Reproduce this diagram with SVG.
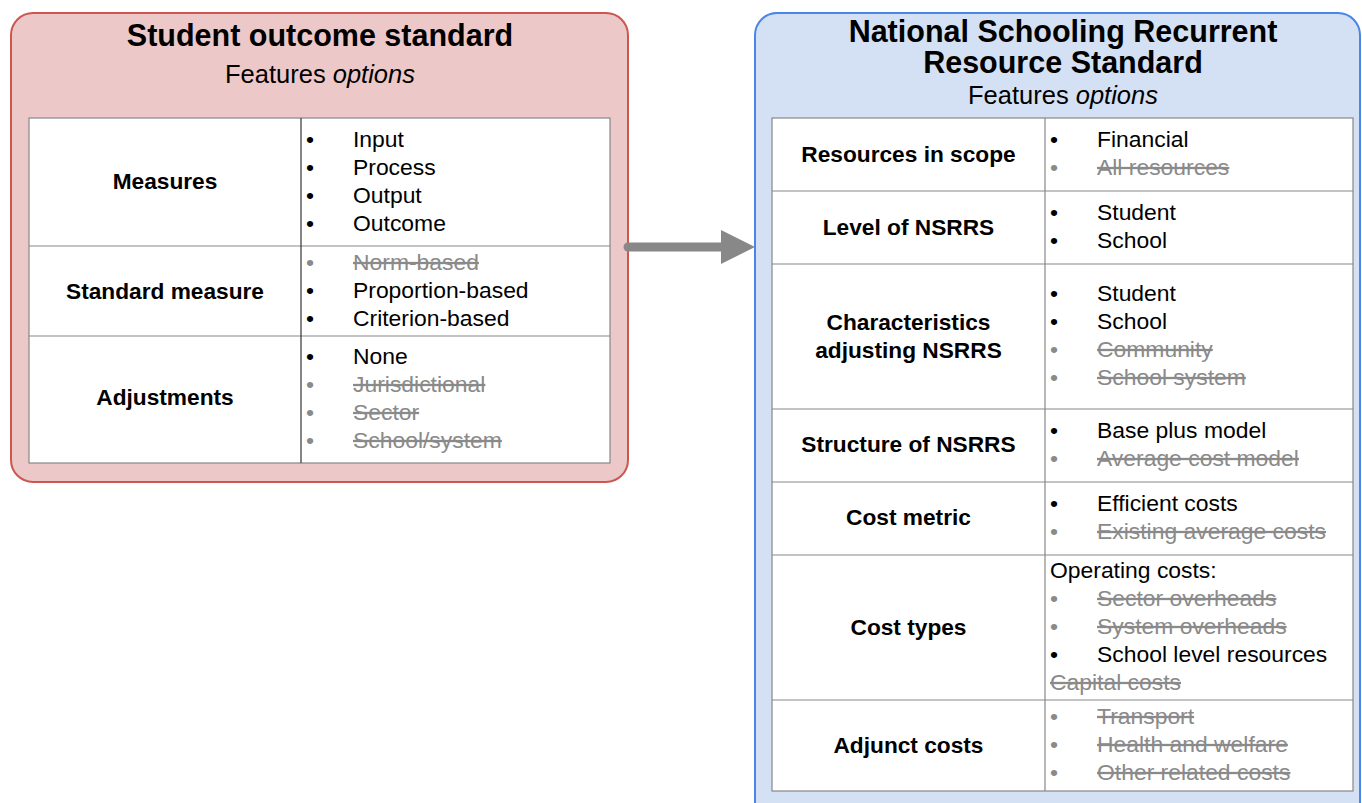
<svg xmlns="http://www.w3.org/2000/svg" width="1362" height="803" viewBox="0 0 1362 803">
<style>
text{font-family:"Liberation Sans",Arial,sans-serif;fill:#000}
.title{font-size:30.5px;font-weight:bold;text-anchor:middle}
.sub{font-size:25.5px;text-anchor:middle}
.lbl{font-size:22.7px;font-weight:bold;text-anchor:middle}
.it{font-size:22.9px}
.off{fill:#8a8a8a;text-decoration:line-through}
.cell{fill:#fff;stroke:#888;stroke-width:1.2}
.ln{stroke:#888;stroke-width:1.2}
.vd{stroke:#333;stroke-width:1.2}
</style>
<defs>
<marker id="ah" markerUnits="userSpaceOnUse" markerWidth="36" markerHeight="34" refX="0" refY="17" orient="auto">
<path d="M0,0 L34,17 L0,34 Z" fill="#888"/>
</marker>
</defs>

<g id="student-outcome-standard">
<rect x="11" y="13" width="617" height="469" rx="22" fill="#ecc9c8" stroke="#cc5751" stroke-width="2"/>
<text class="title" x="320" y="46">Student outcome standard</text>
<text class="sub" x="320" y="83">Features <tspan font-style="italic">options</tspan></text>
<rect class="cell" x="29" y="118" width="581" height="345"/>
<line class="ln" x1="29" y1="246" x2="610" y2="246"/>
<line class="ln" x1="29" y1="336" x2="610" y2="336"/>
<line class="vd" x1="301" y1="118" x2="301" y2="463"/>
<text class="lbl" x="165" y="189">Measures</text>
<text class="lbl" x="165" y="299">Standard measure</text>
<text class="lbl" x="165" y="405">Adjustments</text>
<g class="it">
<text x="306" y="147">•</text><text x="353" y="147">Input</text>
<text x="306" y="175">•</text><text x="353" y="175">Process</text>
<text x="306" y="203">•</text><text x="353" y="203">Output</text>
<text x="306" y="231">•</text><text x="353" y="231">Outcome</text>
<text x="306" y="270" style="fill:#8a8a8a">•</text><text class="off" x="353" y="270">Norm-based</text>
<text x="306" y="298">•</text><text x="353" y="298">Proportion-based</text>
<text x="306" y="326">•</text><text x="353" y="326">Criterion-based</text>
<text x="306" y="364">•</text><text x="353" y="364">None</text>
<text x="306" y="392" style="fill:#8a8a8a">•</text><text class="off" x="353" y="392">Jurisdictional</text>
<text x="306" y="420" style="fill:#8a8a8a">•</text><text class="off" x="353" y="420">Sector</text>
<text x="306" y="448" style="fill:#8a8a8a">•</text><text class="off" x="353" y="448">School/system</text>
</g>
</g>

<g id="nsrrs">
<rect x="755" y="13" width="605" height="830" rx="22" fill="#d4e0f4" stroke="#4a86e8" stroke-width="2"/>
<text class="title" x="1063" y="42">National Schooling Recurrent</text>
<text class="title" x="1063" y="73">Resource Standard</text>
<text class="sub" x="1063" y="104">Features <tspan font-style="italic">options</tspan></text>
<rect class="cell" x="772" y="118" width="581" height="673"/>
<line class="ln" x1="772" y1="191" x2="1353" y2="191"/>
<line class="ln" x1="772" y1="264" x2="1353" y2="264"/>
<line class="ln" x1="772" y1="409" x2="1353" y2="409"/>
<line class="ln" x1="772" y1="482" x2="1353" y2="482"/>
<line class="ln" x1="772" y1="555" x2="1353" y2="555"/>
<line class="ln" x1="772" y1="700" x2="1353" y2="700"/>
<line class="ln" x1="1045" y1="118" x2="1045" y2="791"/>
<text class="lbl" x="908.5" y="162">Resources in scope</text>
<text class="lbl" x="908.5" y="235">Level of NSRRS</text>
<text class="lbl" x="908.5" y="330">Characteristics</text>
<text class="lbl" x="908.5" y="358">adjusting NSRRS</text>
<text class="lbl" x="908.5" y="452">Structure of NSRRS</text>
<text class="lbl" x="908.5" y="525">Cost metric</text>
<text class="lbl" x="908.5" y="635">Cost types</text>
<text class="lbl" x="908.5" y="753">Adjunct costs</text>
<g class="it">
<text x="1050" y="147">•</text><text x="1097" y="147">Financial</text>
<text x="1050" y="175" style="fill:#8a8a8a">•</text><text class="off" x="1097" y="175">All resources</text>
<text x="1050" y="220">•</text><text x="1097" y="220">Student</text>
<text x="1050" y="248">•</text><text x="1097" y="248">School</text>
<text x="1050" y="301">•</text><text x="1097" y="301">Student</text>
<text x="1050" y="329">•</text><text x="1097" y="329">School</text>
<text x="1050" y="357" style="fill:#8a8a8a">•</text><text class="off" x="1097" y="357">Community</text>
<text x="1050" y="385" style="fill:#8a8a8a">•</text><text class="off" x="1097" y="385">School system</text>
<text x="1050" y="438">•</text><text x="1097" y="438">Base plus model</text>
<text x="1050" y="466" style="fill:#8a8a8a">•</text><text class="off" x="1097" y="466">Average cost model</text>
<text x="1050" y="511">•</text><text x="1097" y="511">Efficient costs</text>
<text x="1050" y="539" style="fill:#8a8a8a">•</text><text class="off" x="1097" y="539">Existing average costs</text>
<text x="1050" y="578">Operating costs:</text>
<text x="1050" y="606" style="fill:#8a8a8a">•</text><text class="off" x="1097" y="606">Sector overheads</text>
<text x="1050" y="634" style="fill:#8a8a8a">•</text><text class="off" x="1097" y="634">System overheads</text>
<text x="1050" y="662">•</text><text x="1097" y="662">School level resources</text>
<text class="off" x="1050" y="690">Capital costs</text>
<text x="1050" y="724" style="fill:#8a8a8a">•</text><text class="off" x="1097" y="724">Transport</text>
<text x="1050" y="752" style="fill:#8a8a8a">•</text><text class="off" x="1097" y="752">Health and welfare</text>
<text x="1050" y="780" style="fill:#8a8a8a">•</text><text class="off" x="1097" y="780">Other related costs</text>
</g>
</g>

<g id="connectors">
<line x1="628" y1="247" x2="721" y2="247" stroke="#888" stroke-width="9" stroke-linecap="round" marker-end="url(#ah)"/>
</g>
</svg>
